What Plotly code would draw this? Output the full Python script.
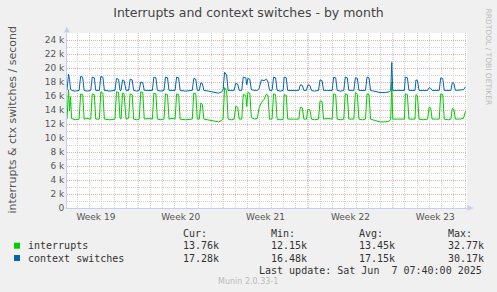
import pandas as pd
import plotly.graph_objects as go

# ---------------- data ----------------
axis_start = pd.Timestamp("2025-05-06 02:50")
axis_end = axis_start + pd.Timedelta(days=33)

hours = [0, 3, 5, 7, 9, 16, 24, 27, 31, 34, 40, 47, 50, 54, 57, 64, 67, 71, 74, 85,
         95, 98, 102, 105, 107, 110, 113, 117, 122, 125, 129, 132, 138, 143, 146, 150, 153,
         162, 169, 172, 176, 179, 186, 192, 195, 199, 202, 208, 214, 217, 221, 224, 235,
         248, 251, 255, 258, 262, 265, 268, 271, 280, 292, 300, 306, 309, 312, 316, 319,
         326, 331, 334, 338, 341, 346, 349, 354, 356, 358, 362, 365, 372, 377, 380, 385,
         390, 395, 398, 401, 406, 409, 413, 416, 422, 428, 430, 434, 437, 450, 459, 462,
         466, 469, 474, 477, 481, 484, 490, 498, 501, 505, 508, 516, 525, 528, 532, 535,
         542, 548, 551, 555, 558, 564, 568, 571, 575, 578, 585, 591, 594, 598, 601, 610,
         620, 630, 638, 641, 643, 645, 650, 668, 670, 674, 677, 682, 689, 691, 694, 697,
         705, 714, 717, 720, 723, 730, 737, 740, 744, 747, 755, 760, 763, 766, 769, 778,
         785, 789]

ctx_k = [16.9, 19.1, 18.4, 17.0, 16.8, 16.7, 16.8, 18.8, 18.7, 16.8, 16.7, 16.8, 18.7, 18.6, 16.8, 16.8, 18.8, 18.7, 16.8, 16.7,
         16.8, 18.5, 18.4, 16.8, 16.8, 18.3, 18.2, 16.8, 16.8, 18.4, 18.3, 16.8, 16.7, 16.8, 18.0, 17.9, 16.8,
         16.8, 16.8, 18.7, 18.6, 16.8, 16.7, 16.8, 18.7, 18.6, 16.8, 16.8, 16.8, 18.7, 18.6, 16.8, 16.7,
         16.8, 18.5, 18.4, 16.8, 16.8, 17.9, 17.8, 16.8, 16.7, 16.5, 16.4, 16.6, 16.8, 19.4, 19.0, 16.8,
         16.8, 16.8, 17.8, 17.7, 16.8, 16.8, 18.7, 18.6, 17.6, 18.5, 18.4, 16.9, 16.8, 16.8, 17.0, 18.3,
         18.2, 18.4, 18.0, 16.8, 16.8, 18.7, 18.6, 16.8, 16.7, 16.8, 18.7, 18.6, 16.8, 16.8, 16.8, 17.6,
         17.5, 16.8, 16.8, 17.6, 17.5, 16.8, 16.7, 16.8, 18.3, 18.2, 16.8, 16.8, 16.8, 18.7, 18.6, 16.8,
         16.7, 16.8, 18.7, 18.6, 16.8, 16.8, 16.8, 18.6, 18.5, 16.8, 16.8, 16.8, 18.7, 18.6, 16.8, 16.7,
         16.5, 16.5, 16.6, 16.8, 20.8, 16.8, 16.8, 16.8, 18.7, 18.6, 16.8, 16.8, 16.8, 18.3, 18.2, 16.8,
         16.8, 16.8, 17.2, 17.1, 16.8, 16.8, 16.8, 18.6, 18.5, 16.8, 16.8, 16.8, 17.9, 17.8, 16.8, 16.8,
         16.9, 17.3]

interrupts_k = [12.7, 16.9, 13.9, 15.9, 12.8, 12.6, 12.7, 16.3, 16.2, 12.7, 12.8, 12.7, 16.3, 16.2, 12.7, 12.7, 16.6, 16.4, 12.7, 12.6,
                12.7, 16.6, 16.5, 12.8, 12.7, 16.4, 16.3, 12.7, 12.8, 16.3, 16.2, 12.7, 12.6, 12.7, 16.6, 16.5, 12.7,
                12.8, 12.7, 16.4, 16.3, 12.7, 12.6, 12.7, 16.3, 16.2, 12.7, 12.8, 12.7, 16.3, 16.2, 12.7, 12.6,
                12.7, 16.4, 16.3, 12.7, 12.7, 15.0, 14.8, 12.7, 12.6, 12.4, 12.3, 12.5, 12.7, 17.2, 16.8, 12.7,
                12.6, 12.7, 14.5, 14.4, 12.7, 12.7, 16.2, 16.1, 14.5, 16.5, 16.4, 12.9, 12.7, 12.8, 14.2, 15.1,
                15.5, 16.3, 16.0, 12.7, 12.7, 16.3, 16.2, 12.7, 12.6, 12.7, 16.2, 16.1, 12.7, 12.7, 12.7, 14.4,
                14.3, 12.7, 12.7, 14.1, 14.0, 12.7, 12.6, 12.7, 15.3, 15.2, 12.7, 12.8, 12.7, 16.3, 16.2, 12.7,
                12.6, 12.7, 16.3, 16.2, 12.7, 12.7, 12.7, 16.5, 16.2, 12.7, 12.6, 12.7, 16.3, 16.2, 12.7, 12.5,
                12.3, 12.3, 12.4, 12.7, 18.0, 12.7, 12.7, 12.7, 16.3, 16.2, 12.7, 12.7, 12.7, 16.2, 16.0, 12.7,
                12.6, 12.7, 14.4, 14.3, 12.7, 12.7, 12.7, 16.3, 16.2, 12.7, 12.6, 12.7, 14.2, 14.1, 12.7, 12.7,
                12.8, 13.8]

week_starts = ["2025-05-12", "2025-05-19", "2025-05-26", "2025-06-02"]
week_label_pos = ["2025-05-08 12:00", "2025-05-15 12:00", "2025-05-22 12:00",
                  "2025-05-29 12:00", "2025-06-05 12:00"]
week_labels = ["Week 19", "Week 20", "Week 21", "Week 22", "Week 23"]

ytick_values = [0, 2000, 4000, 6000, 8000, 10000, 12000, 14000, 16000, 18000, 20000, 22000, 24000]
ytick_labels = ["0", "2 k", "4 k", "6 k", "8 k", "10 k", "12 k", "14 k", "16 k", "18 k", "20 k", "22 k", "24 k"]

series_names = ["interrupts", "context switches"]
series_colors = ["#00CC00", "#0066B3"]
stat_headers = ["Cur:", "Min:", "Avg:", "Max:"]
stats_interrupts = ["13.76k", "12.15k", "13.45k", "32.77k"]
stats_ctx = ["17.28k", "16.48k", "17.15k", "30.17k"]

title_text = "Interrupts and context switches - by month"
ylabel_text = "interrupts &amp; ctx switches / second"
last_update = "Last update: Sat Jun  7 07:40:00 2025"
footer = "Munin 2.0.33-1"
watermark = "RRDTOOL / TOBI OETIKER"

# ---------------- figure ----------------
W, H = 497, 292
L, T, PW, PH = 67, 33, 400, 175


def px(x):
    return (x - L) / PW


def py(y):
    return (T + PH - y) / PH


times = axis_start + pd.to_timedelta(hours, unit="h")

fig = go.Figure()
fig.add_trace(go.Scatter(x=times, y=[v * 1000 for v in interrupts_k], mode="lines",
                         line=dict(color=series_colors[0], width=1), name=series_names[0],
                         hoverinfo="skip"))
fig.add_trace(go.Scatter(x=times, y=[v * 1000 for v in ctx_k], mode="lines",
                         line=dict(color=series_colors[1], width=1), name=series_names[1],
                         hoverinfo="skip"))

axis_col = "#C8CCF2"
grid_minor = "#D2D2D2"
grid_major = "#F2A8A8"

fig.update_layout(
    width=W, height=H,
    margin=dict(l=L, r=W - L - PW, t=T, b=H - T - PH),
    paper_bgcolor="#F0F0F0", plot_bgcolor="#FFFFFF",
    showlegend=False,
    title=dict(text=title_text, x=0.5, xref="container", xanchor="center",
               y=1 - 13 / H, yref="container", yanchor="middle",
               font=dict(family="DejaVu Sans", size=12.5, color="#444444")),
    xaxis=dict(range=[axis_start, axis_end], tickmode="array", tickvals=week_label_pos,
               ticktext=week_labels, ticks="", showgrid=False, zeroline=False,
               showline=True, linecolor=axis_col, linewidth=1,
               tickfont=dict(family="DejaVu Sans", size=9, color="#555555"),
               minor=dict(dtick=86400000, tick0="2025-05-05", showgrid=True,
                          gridcolor=grid_minor, griddash="1px,1px", gridwidth=1, ticks="")),
    yaxis=dict(range=[0, 25000], tickmode="array", tickvals=ytick_values, ticktext=ytick_labels,
               ticks="", showgrid=True, gridcolor=grid_major, griddash="1px,1px", gridwidth=1,
               zeroline=False, showline=True, linecolor=axis_col, linewidth=1,
               tickfont=dict(family="DejaVu Sans", size=9, color="#555555"),
               minor=dict(dtick=1000, tick0=0, showgrid=True, gridcolor=grid_minor,
                          griddash="1px,1px", gridwidth=1, ticks="")),
)

# week separators (major vertical grid)
for d in week_starts:
    fig.add_shape(type="line", xref="x", yref="paper", x0=d, x1=d, y0=0, y1=1,
                  line=dict(color="#EE8080", width=1, dash="1px,1px"), layer="between")

# axis arrows
fig.add_shape(type="path", xref="paper", yref="paper",
              path=f"M {px(63.8)} {py(32.5)} L {px(66.8)} {py(26.5)} L {px(69.8)} {py(32.5)} Z",
              fillcolor=axis_col, line=dict(width=0), layer="above")
fig.add_shape(type="path", xref="paper", yref="paper",
              path=f"M {px(467.5)} {py(205)} L {px(473.5)} {py(208)} L {px(467.5)} {py(211)} Z",
              fillcolor=axis_col, line=dict(width=0), layer="above")
fig.add_shape(type="line", xref="paper", yref="paper", x0=1, x1=px(469), y0=0, y1=0,
              line=dict(color=axis_col, width=1), layer="above")

anns = []
# y axis title
anns.append(dict(text=ylabel_text, x=px(11.5), y=py(120), xref="paper", yref="paper",
                 showarrow=False, textangle=-90, xanchor="center", yanchor="middle",
                 font=dict(family="DejaVu Sans", size=11, color="#555555")))
# watermark
anns.append(dict(text=watermark, x=px(488.5), y=py(57), xref="paper", yref="paper",
                 showarrow=False, textangle=90, xanchor="center", yanchor="middle",
                 font=dict(family="DejaVu Sans", size=7.5, color="#BBBBBB")))

mono = dict(family="DejaVu Sans Mono", size=10, color="#333333")
col_x = [181.7, 270, 358.3, 447.3]
row_y = [233.3, 245.7, 258]
for cx, h in zip(col_x, stat_headers):
    anns.append(dict(text=h, x=px(cx - 1), y=py(row_y[0]), xref="paper", yref="paper",
                     showarrow=False, xanchor="left", yanchor="middle", font=mono))
for ri, (name, color, stats) in enumerate(zip(series_names, series_colors,
                                               [stats_interrupts, stats_ctx])):
    yy = row_y[ri + 1]
    fig.add_shape(type="rect", xref="paper", yref="paper",
                  x0=px(14), x1=px(20), y0=py(yy - 3), y1=py(yy + 3),
                  fillcolor=color, line=dict(width=0))
    anns.append(dict(text=name, x=px(25.7), y=py(yy), xref="paper", yref="paper",
                     showarrow=False, xanchor="left", yanchor="middle", font=mono))
    for cx, s in zip(col_x, stats):
        anns.append(dict(text=s, x=px(cx - 1), y=py(yy), xref="paper", yref="paper",
                         showarrow=False, xanchor="left", yanchor="middle", font=mono))
anns.append(dict(text=last_update.replace(" ", "&nbsp;"), x=px(484.3), y=py(270.3), xref="paper", yref="paper",
                 showarrow=False, xanchor="right", yanchor="middle", font=mono))
anns.append(dict(text=footer, x=px(248), y=py(281.5), xref="paper", yref="paper",
                 showarrow=False, xanchor="center", yanchor="middle",
                 font=dict(family="DejaVu Sans", size=8, color="#BBBBBB")))
fig.update_layout(annotations=anns)

fig.write_html("out.html")
